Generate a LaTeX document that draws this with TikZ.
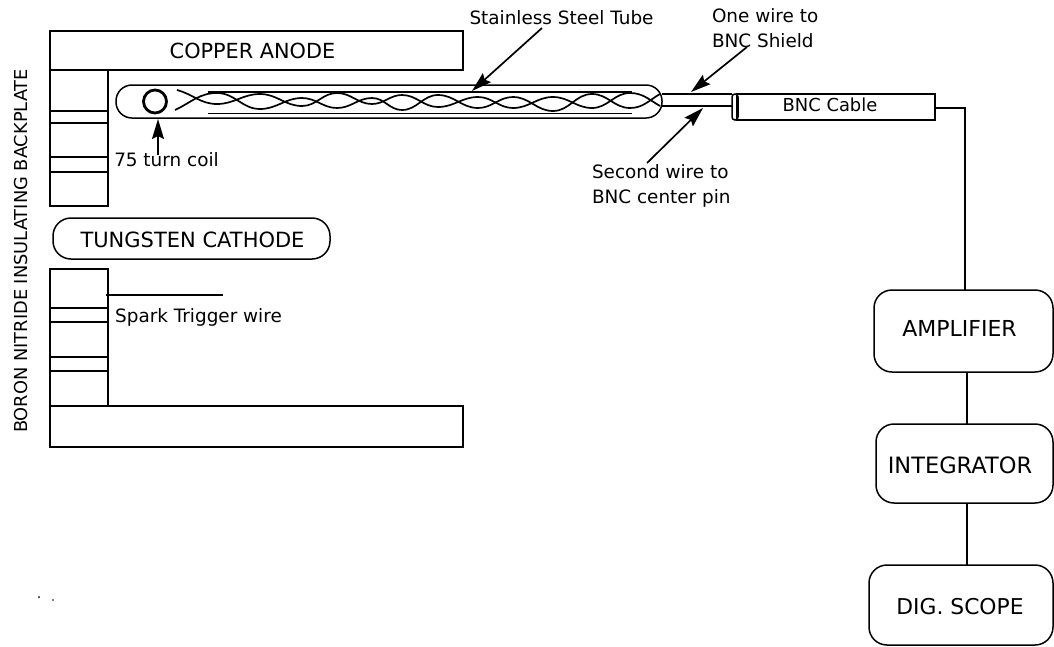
\documentclass[tikz,border=0pt]{standalone}
\usepackage{fontspec}
\setmainfont{DejaVu Sans}
\usetikzlibrary{arrows.meta}
\tikzset{
  x=1pt,y=-1pt,
  ink/.style={line width=1.5pt,black},
  part/.style={ink,draw,rectangle,inner sep=0pt,outer sep=0pt},
  round box/.style={part,rounded corners=18pt},
  lbl/.style={inner sep=0pt,outer sep=0pt,font=\fontsize{#1}{#1}\selectfont},
  lbl/.default=18.4,
  pointer/.style={line width=1.7pt,-{Stealth[length=20pt,width=12pt,inset=3pt]}},
  wire/.style={line width=1.7pt,line join=round},
  lobe/.style={out=0,in=180},
}
\begin{document}
\begin{tikzpicture}
\useasboundingbox (0,0) rectangle (1054,646);
% electrodes
\node[part,minimum width=413pt,minimum height=39pt] (anode) at (256.5,50.5) {};
\node[lbl=20.8] (anodet) at (252.5,50.5) {COPPER ANODE};
\node[part,minimum width=58pt,minimum height=136pt] (plateU) at (79,138) {};
\draw[ink] (50,111)--(108,111) (50,123)--(108,123) (50,157)--(108,157) (50,172)--(108,172);
\node[round box,minimum width=277pt,minimum height=41pt] (cathode) at (191.5,238.5) {};
\node[lbl=21] (cathodet) at (192.5,240) {TUNGSTEN CATHODE};
\node[part,minimum width=58pt,minimum height=137pt] (plateL) at (79,337.5) {};
\draw[ink] (50,308)--(108,308) (50,322)--(108,322) (50,357)--(108,357) (50,371)--(108,371);
\node[part,minimum width=413pt,minimum height=41pt] (base) at (256.5,426.5) {};
\node[lbl=17.8,rotate=90] (backplate) at (21,251) {BORON NITRIDE INSULATING BACKPLATE};
% tube
\node[part,rounded corners=16pt,minimum width=546pt,minimum height=33pt] (tube) at (389,101.5) {};
\node[draw,circle,line width=2.8pt,minimum size=23pt,inner sep=0pt,outer sep=1.4pt] (coil) at (155,101.5) {};
\coordinate (liT) at (208,92); \coordinate (liTe) at (632,92);
\coordinate (liB) at (208,113.5); \coordinate (liBe) at (632,113.5);
\draw[wire] (liT)--(liTe) (liB)--(liBe);
\draw[wire,lobe] (177,90) to[out=-15] (217,104) to (260,94) to (302,106) to (337,93) to (372,104) to (402,95) to (438,107) to (478,97) to (513,108) to (553,97) to (592,108) to (630,93) to[in=150] (660,106);
\draw[wire,lobe] (175,110) to[out=25] (217,93) to (260,109) to (302,98) to (337,108) to (372,98) to (402,110) to (438,95) to (478,108) to (513,97) to (553,111) to (592,94) to (630,108) to[in=-150] (660,94);
% BNC
\node[part,rounded corners=3pt,minimum width=6pt,minimum height=26pt] (bncend) at (735,107) {};
\node[part,minimum width=198pt,minimum height=26pt] (bnc) at (836,107) {};
\node[lbl=17.9] (bnct) at (830,105) {BNC Cable};
\coordinate (sh) at (662,94); \coordinate (cp) at (662,106);
\draw[ink] (sh) -- (sh -| bncend.west);
\draw[line width=2.2pt] (cp) -- (cp -| bncend.west);
% instruments
\node[round box,minimum width=179pt,minimum height=82pt] (amp) at (963.5,331) {};
\node[lbl=22] (ampt) at (959.5,328) {AMPLIFIER};
\node[round box,minimum width=177pt,minimum height=79pt] (integ) at (964.5,463.5) {};
\node[lbl=22.5] (integt) at (960,465) {INTEGRATOR};
\node[round box,minimum width=184pt,minimum height=80pt] (scope) at (961,605) {};
\node[lbl=21.8] (scopet) at (960,607) {DIG. SCOPE};
\coordinate (drop) at (965,108);
\draw[ink] (bnc.east |- drop) -- (drop) -- (drop |- amp.north);
\coordinate (a1) at (967,372);
\draw[ink] (a1 |- amp.south) -- (a1 |- integ.north);
\draw[ink] (a1 |- integ.south) -- (a1 |- scope.north);
% spark wire
\coordinate (sp1) at (106,295); \coordinate (sp2) at (223,295);
\draw[line width=2.8pt] (sp1) -- (sp2);
\node[lbl] (spark) at (198.5,317) {Spark Trigger wire};
% labels and pointers
\node[lbl] (coilt) at (166.5,160) {75 turn coil};
\coordinate (coilp) at (158,155);
\draw[pointer] (coilp) -- (158,119);
\node[lbl] (sst) at (561.5,18) {Stainless Steel Tube};
\coordinate (ss1) at (542,28); \coordinate (ss2) at (472,91);
\draw[pointer] (ss1) -- (ss2);
\node[lbl,anchor=west] (one1) at (712,16) {One wire to};
\node[lbl,anchor=west] (one2) at (712,41) {BNC Shield};
\coordinate (o1) at (747,47); \coordinate (o2) at (691,92);
\draw[pointer] (o1) -- (o2);
\node[lbl,anchor=west] (sec1) at (592,172) {Second wire to};
\node[lbl,anchor=west] (sec2) at (592,198) {BNC center pin};
\coordinate (s1) at (647,163); \coordinate (s2) at (703,108);
\draw[pointer] (s1) -- (s2);
% specks
\fill (39,597) circle (1pt);
\fill (53,600) circle (0.8pt);
\end{tikzpicture}
\end{document}
